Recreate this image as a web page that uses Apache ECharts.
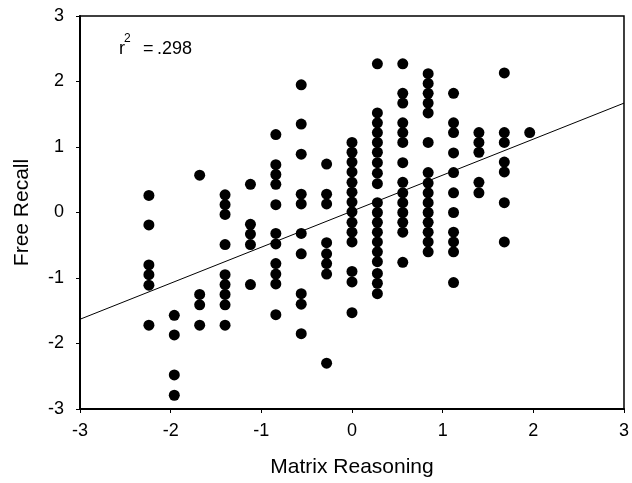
<!DOCTYPE html>
<html>
<head>
<meta charset="utf-8">
<script src="https://cdn.jsdelivr.net/npm/echarts@6/dist/echarts.min.js"></script>
<style>
  html, body { margin: 0; padding: 0; background: #fff; }
  #chart { width: 632px; height: 483px; }
</style>
</head>
<body>
<div id="chart"></div>
<script>
// column positions on the Matrix Reasoning axis
const colX = [-2.24, -1.96, -1.68, -1.40, -1.12, -0.84, -0.56, -0.28, 0, 0.28, 0.56, 0.84, 1.12, 1.40, 1.68, 1.96];

// Free Recall values per column
const colY = [
  [0.26, -0.19, -0.80, -0.95, -1.11, -1.72],
  [-1.57, -1.87, -2.48, -2.79],
  [0.57, -1.25, -1.41, -1.72],
  [0.27, 0.12, -0.03, -0.49, -0.95, -1.10, -1.25, -1.41, -1.72],
  [0.43, -0.18, -0.33, -0.49, -1.10],
  [1.19, 0.73, 0.58, 0.43, 0.12, -0.32, -0.48, -0.78, -0.94, -1.09, -1.56],
  [1.95, 1.35, 0.89, 0.28, 0.13, -0.32, -0.63, -1.24, -1.40, -1.85],
  [0.74, 0.28, 0.13, -0.46, -0.63, -0.78, -0.94, -2.30],
  [1.07, 0.92, 0.77, 0.62, 0.46, 0.31, 0.16, 0.01, -0.15, -0.30, -0.45, -0.90, -1.06, -1.53],
  [2.27, 1.52, 1.37, 1.22, 1.07, 0.92, 0.76, 0.60, 0.44, 0.15, 0.00, -0.15, -0.30, -0.45, -0.60, -0.75, -0.93, -1.08, -1.24],
  [2.27, 1.82, 1.67, 1.37, 1.22, 1.07, 0.76, 0.46, 0.30, 0.15, 0.00, -0.15, -0.30, -0.76],
  [2.12, 1.97, 1.82, 1.67, 1.52, 1.07, 0.61, 0.45, 0.30, 0.15, 0.00, -0.15, -0.30, -0.45, -0.60],
  [1.82, 1.37, 1.22, 0.91, 0.61, 0.30, 0.00, -0.30, -0.45, -0.60, -1.07],
  [1.22, 1.07, 0.92, 0.46, 0.30],
  [2.13, 1.22, 1.07, 0.77, 0.62, 0.15, -0.45],
  [1.22]
];

// regression line end points
const fitX = [-3, 3];
const fitY = [-1.63, 1.67];

const rSquared = '.298';

const points = [];
colX.forEach((x, i) => {
  colY[i].forEach((y) => points.push([x, y]));
});

const font = 'Liberation Sans, Arial, sans-serif';
const chart = echarts.init(document.getElementById('chart'), null, { renderer: 'canvas' });

chart.setOption({
  animation: false,
  backgroundColor: '#fff',
  grid: {
    left: 80, right: 5, top: 16, bottom: 71,
    show: true, borderColor: '#000', borderWidth: 1.5
  },
  xAxis: {
    type: 'value', min: -3, max: 3, interval: 1,
    name: 'Matrix Reasoning', nameLocation: 'middle', nameGap: 48,
    nameTextStyle: { fontFamily: font, fontSize: 21, color: '#000' },
    axisLine: { show: true, onZero: false, lineStyle: { color: '#000', width: 2 } },
    axisTick: { show: true, length: 4, lineStyle: { color: '#000' } },
    axisLabel: { fontFamily: font, fontSize: 18, color: '#000', margin: 13 },
    splitLine: { show: false }
  },
  yAxis: {
    type: 'value', min: -3, max: 3, interval: 1,
    name: 'Free Recall', nameLocation: 'middle', nameGap: 47,
    nameTextStyle: { fontFamily: font, fontSize: 21, color: '#000' },
    axisLine: { show: true, onZero: false, lineStyle: { color: '#000', width: 2 } },
    axisTick: { show: true, length: 4, lineStyle: { color: '#000' } },
    axisLabel: { fontFamily: font, fontSize: 18, color: '#000', margin: 16 },
    splitLine: { show: false }
  },
  graphic: [
    {
      type: 'text', left: 119, top: 40,
      style: { text: 'r', font: '18px ' + font, fill: '#000' }
    },
    {
      type: 'text', left: 124, top: 33,
      style: { text: '2', font: '12px ' + font, fill: '#000' }
    },
    {
      type: 'text', left: 143, top: 40,
      style: { text: '=', font: '18px ' + font, fill: '#000' }
    },
    {
      type: 'text', left: 157, top: 40,
      style: { text: rSquared, font: '18px ' + font, fill: '#000' }
    }
  ],
  series: [
    {
      type: 'line',
      data: fitX.map((x, i) => [x, fitY[i]]),
      symbol: 'none',
      lineStyle: { color: '#000', width: 1 },
      z: 1
    },
    {
      type: 'scatter',
      data: points,
      symbol: 'circle',
      symbolSize: 11,
      itemStyle: { color: '#000', opacity: 1 },
      z: 2
    }
  ]
});
</script>
</body>
</html>
